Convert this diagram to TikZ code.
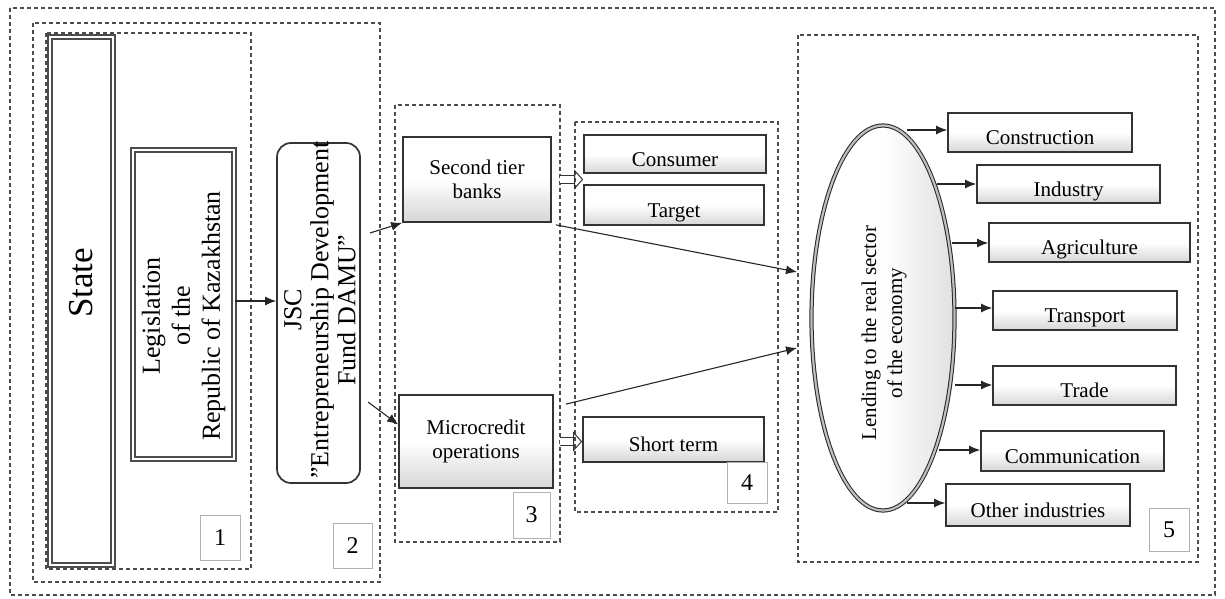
\documentclass[tikz,border=0pt]{standalone}
\usepackage{fontspec}
\setmainfont{Liberation Serif}
\usetikzlibrary{arrows.meta,shapes.geometric,calc}
\begin{document}
\begin{tikzpicture}[x=1pt,y=-1pt,
  frame/.style={draw=black!70, line width=1.2pt, dash pattern=on 4pt off 3pt},
  sbox/.style={rectangle, draw=black!80, line width=1.7pt, top color=white, bottom color=black!16, middle color=white, inner sep=2pt, align=center, font=\fontsize{21}{24}\selectfont},
  lowtext/.style={text height=24pt, text depth=0pt},
  dbox/.style={rectangle, draw=black!70, line width=1.4pt, double=white, double distance=2.5pt, fill=white},
  numbox/.style={rectangle, draw=black!30, line width=0.9pt, fill=white, inner sep=0pt, font=\fontsize{24}{24}\selectfont},
  arr/.style={-{Latex[length=11pt,width=9pt]}, line width=1.1pt, draw=black!85},
  hollow/.style={double=white, double distance=7pt, line width=1pt, draw=black!80, -{Triangle[open, length=9pt, width=20pt]}}
]
\useasboundingbox (0,0) rectangle (1225,599);
% dashed frames
\draw[frame] (10,8) rectangle (1215,595);
\draw[frame] (33,23) rectangle (380,582);
\draw[frame] (46,33) rectangle (251,569);
\draw[frame] (395,105) rectangle (560,542);
\draw[frame] (575,122) rectangle (778,512);
\draw[frame] (798,35) rectangle (1198,562);

% block 1
\node[dbox, minimum width=63, minimum height=528] (state) at (81.5,301) {};
\node[rotate=90, font=\fontsize{35}{38}\selectfont] (statetext) at (81.5,283) {State};
\node[dbox, minimum width=101, minimum height=309] (legis) at (183.5,304.5) {};
\node[rotate=90, align=center, font=\fontsize{26}{30}\selectfont] (legistext) at (183.5,316) {Legislation\\of the\\Republic of Kazakhstan};
\node[numbox, minimum width=40, minimum height=45] (n1) at (220,537.5) {1};

% block 2
\node[rectangle, rounded corners=14pt, draw=black!80, line width=1.7pt, fill=white, minimum width=83, minimum height=340] (jsc) at (318.5,313) {};
\node[rotate=90, align=center, font=\fontsize{26}{27}\selectfont] (jsctext) at (320,310) {JSC\\\char"22 Entrepreneurship Development\\Fund DAMU\char"22};
\node[numbox, minimum width=39, minimum height=45] (n2) at (352.5,545.5) {2};

% block 3
\node[sbox, minimum width=148, minimum height=85] (stb) at (477,179.5) {Second tier\\banks};
\node[sbox, minimum width=154, minimum height=93] (mc) at (476,441.5) {Microcredit\\operations};
\node[numbox, minimum width=37, minimum height=46] (n3) at (531.5,515) {3};

% block 4
\node[sbox, lowtext, minimum width=182, minimum height=38] (consumer) at (675,154) {Consumer};
\node[sbox, lowtext, minimum width=180, minimum height=40] (target) at (674,205) {Target};
\node[sbox, lowtext, minimum width=181, minimum height=45] (short) at (673.5,439.5) {Short term};
\node[numbox, minimum width=40, minimum height=41] (n4) at (747,482.5) {4};

% block 5
\node[ellipse, draw=black!85, line width=1pt, double=black!25, double distance=2.2pt, left color=white, right color=black!12, middle color=white, minimum width=143, minimum height=385, inner sep=0pt] (ell) at (883,318) {};
\node[rotate=90, align=center, font=\fontsize{21}{26}\selectfont] (elltext) at (884,333) {Lending to the real sector\\of the economy};
\node[sbox, lowtext, minimum width=184, minimum height=39] (constr) at (1040,132.5) {Construction};
\node[sbox, lowtext, minimum width=183, minimum height=38] (indus) at (1068.5,184) {Industry};
\node[sbox, lowtext, minimum width=201, minimum height=39] (agri) at (1089.5,242.5) {Agriculture};
\node[sbox, lowtext, minimum width=184, minimum height=39] (trans) at (1085,310.5) {Transport};
\node[sbox, lowtext, minimum width=183, minimum height=39] (trade) at (1084.5,385.5) {Trade};
\node[sbox, lowtext, minimum width=183, minimum height=40] (comm) at (1072.5,451) {Communication};
\node[sbox, lowtext, minimum width=184, minimum height=42] (other) at (1038,505) {Other industries};
\node[numbox, minimum width=40, minimum height=43] (n5) at (1169,529.5) {5};

% connectors
\draw[arr] (legis.east |- 0,301) -- (jsc.west |- 0,301);
\coordinate (j1) at (370,233);
\coordinate (j2) at (368,402);
\draw[arr] (j1) -- (stb.south west);
\draw[arr] (j2) -- ($(mc.north west)!0.32!(mc.south west)$);
\draw[hollow, shorten <=8pt] (stb.east) -- (stb.east -| consumer.west);
\draw[hollow, shorten <=6pt] (mc.east) -- (mc.east -| short.west);
\coordinate (l1) at (797,272);
\coordinate (l2) at (797,348);
\draw[arr] ($(stb.south east)+(4,2)$) -- (l1);
\draw[arr] ($(mc.north east)+(12,10)$) -- (l2);

\coordinate (e1) at (907,130);
\coordinate (e2) at (937,184);
\coordinate (e3) at (952,243);
\coordinate (e4) at (955,308);
\coordinate (e5) at (955,385);
\coordinate (e6) at (939,450);
\coordinate (e7) at (907,503);
\draw[arr] (e1) -- (e1 -| constr.west);
\draw[arr] (e2) -- (e2 -| indus.west);
\draw[arr] (e3) -- (e3 -| agri.west);
\draw[arr] (e4) -- (e4 -| trans.west);
\draw[arr] (e5) -- (e5 -| trade.west);
\draw[arr] (e6) -- (e6 -| comm.west);
\draw[arr] (e7) -- (e7 -| other.west);
\end{tikzpicture}
\end{document}
